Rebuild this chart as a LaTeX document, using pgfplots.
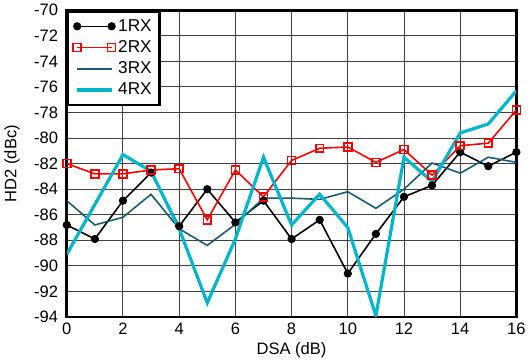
\documentclass[border=0pt]{standalone}
\usepackage{pgfplots}
\pgfplotsset{compat=1.18}
\usepackage{fontspec}
\setmainfont{Liberation Sans}
\definecolor{rxcyan}{RGB}{0,182,204}
\definecolor{rxteal}{RGB}{22,92,112}
\begin{document}
\begin{tikzpicture}
\begin{axis}[
  scale only axis,
  width=339.75pt, height=231.75pt,
  xmin=0, xmax=16, ymin=-94, ymax=-70,
  xtick={0,2,...,16}, ytick={-94,-92,...,-70},
  grid=major,
  major grid style={black!75, line width=0.7pt},
  major tick length=0pt,
  axis line style={line width=2pt},
  tick label style={font=\fontsize{12.5}{14}\selectfont},
  yticklabel style={xshift=-3pt},
  xticklabel style={yshift=-1pt},
  /pgf/number format/assume math mode=true,
  xlabel={DSA (dB)}, ylabel={HD2 (dBc)},
  label style={font=\fontsize{12.5}{14}\selectfont},
  xlabel style={yshift=1pt},
  ylabel style={yshift=4pt},
  legend style={at={(0,1)}, anchor=north west, draw=black, line width=1.8pt,
    fill=white, font=\fontsize{13}{15}\selectfont, row sep=1.5pt,
    inner xsep=4pt, inner ysep=4pt},
  legend cell align=left,
  legend image code/.code={\draw[#1] plot coordinates {(0pt,0pt) (26pt,0pt)};},
]
\addplot[black, line width=1.2pt, mark=*, mark size=2.8pt, mark options={solid, line width=0.6pt}] coordinates {
(0,-86.8) (1,-87.9) (2,-84.9) (3,-82.7) (4,-86.9) (5,-84.0) (6,-86.6) (7,-84.9) (8,-87.9)
(9,-86.4) (10,-90.6) (11,-87.5) (12,-84.6) (13,-83.7) (14,-81.1) (15,-82.2) (16,-81.1)};
\addlegendentry{1RX}
\addplot[red, line width=1.2pt, mark=square, mark size=3pt, mark options={solid, line width=1.2pt}] coordinates {
(0,-82.0) (1,-82.8) (2,-82.8) (3,-82.5) (4,-82.4) (5,-86.4) (6,-82.5) (7,-84.6) (8,-81.75)
(9,-80.8) (10,-80.7) (11,-81.9) (12,-80.9) (13,-82.9) (14,-80.6) (15,-80.4) (16,-77.8)};
\addlegendentry{2RX}
\addplot[rxteal, line width=1.2pt] coordinates {
(0,-84.9) (1,-86.8) (2,-86.2) (3,-84.4) (4,-87.1) (5,-88.4) (6,-86.75) (7,-84.7) (8,-84.7)
(9,-84.8) (10,-84.2) (11,-85.5) (12,-84.0) (13,-81.95) (14,-82.75) (15,-81.5) (16,-81.9)};
\addlegendentry{3RX}
\addplot[rxcyan, line width=2.4pt] coordinates {
(0,-89.1) (1,-85.2) (2,-81.3) (3,-82.6) (4,-87.1) (5,-92.9) (6,-87.9) (7,-81.5) (8,-86.8)
(9,-84.4) (10,-87.0) (11,-93.9) (12,-81.5) (13,-83.4) (14,-79.6) (15,-78.9) (16,-76.3)};
\addlegendentry{4RX}
\end{axis}
\end{tikzpicture}
\end{document}
